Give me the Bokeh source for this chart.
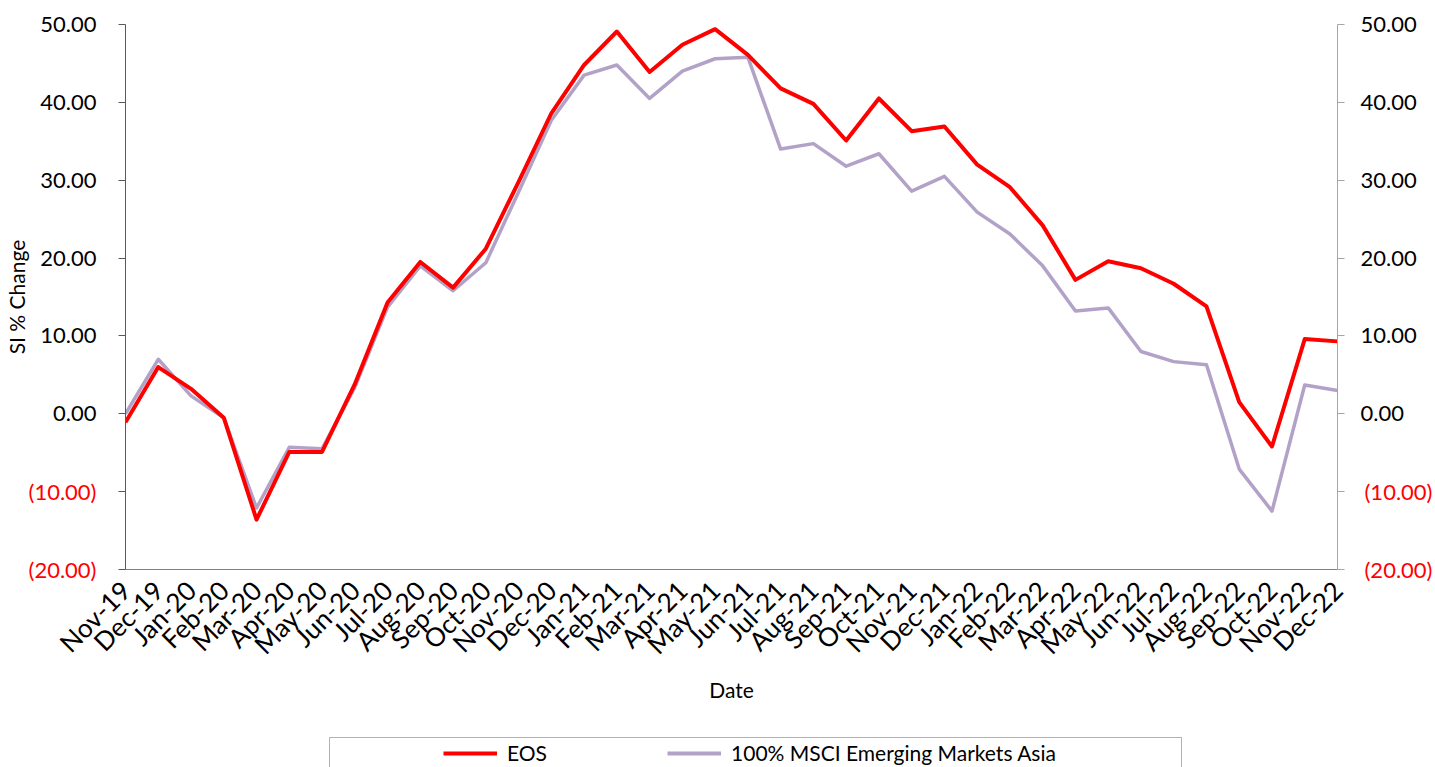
from math import pi
from bokeh.plotting import figure
from bokeh.layouts import column
from bokeh.models import (Range1d, LinearAxis, FixedTicker, CustomJSTickFormatter,
                          Legend, LegendItem, BoxAnnotation, ColumnDataSource)
from bokeh.embed import file_html
from bokeh.resources import INLINE

months = ["Nov-19", "Dec-19", "Jan-20", "Feb-20", "Mar-20", "Apr-20", "May-20", "Jun-20",
          "Jul-20", "Aug-20", "Sep-20", "Oct-20", "Nov-20", "Dec-20", "Jan-21", "Feb-21",
          "Mar-21", "Apr-21", "May-21", "Jun-21", "Jul-21", "Aug-21", "Sep-21", "Oct-21",
          "Nov-21", "Dec-21", "Jan-22", "Feb-22", "Mar-22", "Apr-22", "May-22", "Jun-22",
          "Jul-22", "Aug-22", "Sep-22", "Oct-22", "Nov-22", "Dec-22"]

eos = [-1.1, 6.0, 3.2, -0.5, -13.6, -4.9, -4.9, 3.8, 14.3, 19.5, 16.2, 21.2, 29.8, 38.6,
       44.8, 49.1, 43.9, 47.4, 49.4, 46.1, 41.8, 39.8, 35.1, 40.5, 36.3, 36.9, 32.0, 29.1,
       24.2, 17.2, 19.6, 18.7, 16.7, 13.8, 1.5, -4.2, 9.6, 9.3]

msci = [0.0, 7.0, 2.3, -0.5, -12.1, -4.3, -4.5, 3.4, 13.7, 19.0, 15.8, 19.4, 28.5, 37.7,
        43.5, 44.8, 40.5, 44.0, 45.6, 45.8, 34.0, 34.7, 31.8, 33.4, 28.6, 30.5, 25.9, 23.1,
        19.0, 13.2, 13.6, 8.0, 6.7, 6.3, -7.1, -12.5, 3.7, 3.0]

series_names = ["EOS", "100% MSCI Emerging Markets Asia"]
y_ticks_all = [-20, -10, 0, 10, 20, 30, 40, 50]
y_ticks_neg = [-20, -10]

FONT = "Lato"
TICK_FS = "22px"
XTICK_FS = "26px"
LABEL_FS = "21px"
EOS_COLOR = "#FF0000"
MSCI_COLOR = "#B3A2C7"
TEXT = "#000000"

idx = list(range(len(months)))
src = ColumnDataSource(dict(x=idx, eos=eos, msci=msci))

# ---------------- main chart ----------------
p = figure(width=1435, height=720, output_backend="svg", toolbar_location=None,
           x_range=Range1d(0, len(months) - 1), y_range=Range1d(-20, 50),
           min_border_left=124, min_border_right=94, min_border_top=24,
           min_border_bottom=151)
p.outline_line_color = None
p.xgrid.visible = False
p.ygrid.visible = False
p.background_fill_color = "white"
p.border_fill_color = "white"

fmt = CustomJSTickFormatter(code="return tick < 0 ? '(' + Math.abs(tick).toFixed(2) + ')' : tick.toFixed(2);")
hide_neg = {t: "" for t in y_ticks_neg}

def style_y(ax, standoff, label_color=TEXT):
    ax.formatter = fmt
    ax.minor_tick_line_color = None
    ax.major_label_standoff = standoff
    ax.major_label_text_font = FONT
    ax.major_label_text_font_size = TICK_FS
    ax.major_label_text_color = label_color

# inner left axis: line, all ticks, black labels for >= 0
ly = p.yaxis[0]
ly.ticker = FixedTicker(ticks=y_ticks_all)
ly.major_label_overrides = hide_neg
style_y(ly, 22)
ly.major_tick_in = 0
ly.major_tick_out = 7
ly.axis_line_color = "#595959"
ly.major_tick_line_color = "#595959"

# outer left axis: red labels for negatives, pulled back next to the inner one
ly_neg = LinearAxis(ticker=FixedTicker(ticks=y_ticks_neg))
style_y(ly_neg, -59, EOS_COLOR)
ly_neg.major_tick_in = 0
ly_neg.major_tick_out = 0
ly_neg.major_tick_line_color = None
ly_neg.axis_line_color = None
ly_neg.axis_label = "SI % Change"
ly_neg.axis_label_text_font = FONT
ly_neg.axis_label_text_font_size = LABEL_FS
ly_neg.axis_label_text_font_style = "normal"
ly_neg.axis_label_text_color = TEXT
ly_neg.axis_label_standoff = -3
p.add_layout(ly_neg, "left")

# right axes
ry = LinearAxis(ticker=FixedTicker(ticks=y_ticks_all))
ry.major_label_overrides = hide_neg
style_y(ry, 16)
ry.major_tick_in = 0
ry.major_tick_out = 7
ry.axis_line_color = "#A6A6A6"
ry.major_tick_line_color = "#A6A6A6"
p.add_layout(ry, "right")

ry_neg = LinearAxis(ticker=FixedTicker(ticks=y_ticks_neg))
style_y(ry_neg, -55, EOS_COLOR)
ry_neg.major_tick_in = 0
ry_neg.major_tick_out = 0
ry_neg.major_tick_line_color = None
ry_neg.axis_line_color = None
p.add_layout(ry_neg, "right")

# x axis
xa = p.xaxis[0]
xa.ticker = FixedTicker(ticks=idx)
xa.major_label_overrides = {i: m for i, m in enumerate(months)}
xa.major_label_orientation = pi / 4
xa.major_tick_line_color = None
xa.minor_tick_line_color = None
xa.major_tick_out = 0
xa.major_tick_in = 0
xa.major_label_standoff = 16
xa.major_label_text_font = FONT
xa.major_label_text_font_size = XTICK_FS
xa.major_label_text_color = TEXT
xa.axis_line_color = "#808080"
xa.axis_label = "Date"
xa.axis_label_text_font = FONT
xa.axis_label_text_font_size = LABEL_FS
xa.axis_label_text_font_style = "normal"
xa.axis_label_text_color = TEXT
xa.axis_label_standoff = 3

p.line("x", "msci", source=src, line_color=MSCI_COLOR, line_width=3.5, line_join="round")
p.line("x", "eos", source=src, line_color=EOS_COLOR, line_width=4, line_join="round")

# ---------------- legend strip (frame aligned with the chart's frame) ----------------
lg = figure(width=1435, height=47, output_backend="svg", toolbar_location=None,
            x_range=Range1d(-10, -9), y_range=Range1d(-100, -99),
            x_axis_location=None, y_axis_location=None,
            min_border_left=0, min_border_right=0, min_border_top=0, min_border_bottom=0)
lg.outline_line_color = None
lg.grid.visible = False
lg.background_fill_color = "white"
lg.border_fill_color = "white"
l_eos = lg.line("x", "eos", source=src, line_color=EOS_COLOR, line_width=4)
l_msci = lg.line("x", "msci", source=src, line_color=MSCI_COLOR, line_width=4)

legend = Legend(items=[LegendItem(label=series_names[0], renderers=[l_eos]),
                       LegendItem(label=series_names[1], renderers=[l_msci])],
                orientation="horizontal", location=(204, 2),
                title=" ", title_location="left", title_text_font_size="1px",
                title_standoff=113,
                border_line_color=None, background_fill_alpha=0,
                padding=3, margin=0, glyph_width=54, glyph_height=20,
                label_standoff=10, spacing=120, label_height=20,
                label_text_font=FONT, label_text_font_size=LABEL_FS,
                label_text_color=TEXT)
lg.add_layout(legend)

frame_box = BoxAnnotation(left=204, right=1056, top=30, bottom=-20,
                          left_units="screen", right_units="screen",
                          top_units="screen", bottom_units="screen",
                          fill_color=None, line_color="#000000", line_width=1)
lg.add_layout(frame_box)

page = column(p, lg, spacing=0)
open("out.html", "w").write(file_html(page, INLINE))
